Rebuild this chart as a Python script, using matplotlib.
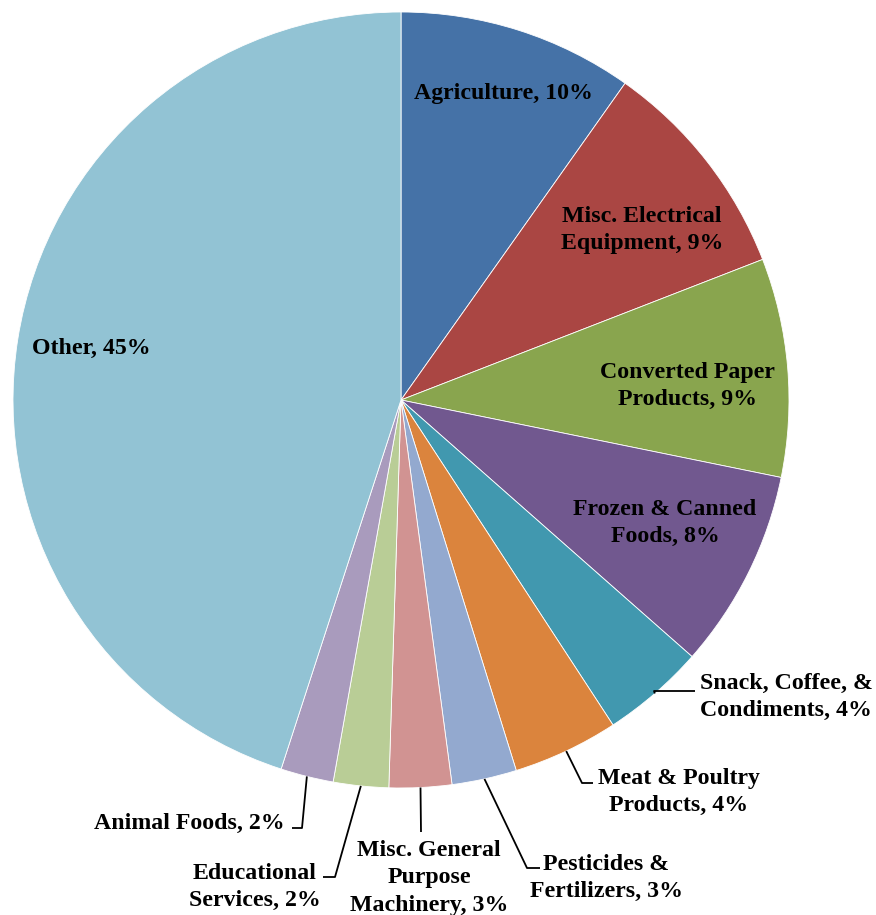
import numpy as np
import matplotlib
matplotlib.use("Agg")
import matplotlib.pyplot as plt

categories = ["Agriculture", "Misc. Electrical\nEquipment", "Converted Paper\nProducts",
              "Frozen & Canned\nFoods", "Snack, Coffee, &\nCondiments", "Meat & Poultry\nProducts",
              "Pesticides &\nFertilizers", "Misc. General\nPurpose\nMachinery", "Educational\nServices",
              "Animal Foods", "Other"]
values = [9.8, 9.3, 9.1, 8.3, 4.3, 4.4, 2.7, 2.6, 2.3, 2.2, 45.0]
pct_labels = ["10%", "9%", "9%", "8%", "4%", "4%", "3%", "3%", "2%", "2%", "45%"]
colors = ["#4572A7", "#AA4643", "#89A54E", "#71588F", "#4198AF", "#DB843D",
          "#93A9CF", "#D19392", "#B9CD96", "#A99BBD", "#92C3D4"]

W, H = 876, 915
CX, CY, R = 401, 400, 388

fig = plt.figure(figsize=(W / 100, H / 100), dpi=100)
ax = fig.add_axes([0, 0, 1, 1])

wedges, _ = ax.pie(values, colors=colors, startangle=90, counterclock=False, radius=R,
                   wedgeprops=dict(edgecolor="white", linewidth=0.6))
ax.set_xlim(-CX, W - CX)
ax.set_ylim(-(H - CY), CY)
ax.set_aspect("equal")
ax.axis("off")

def P(x, y):
    return (x - CX, CY - y)

font = dict(family="Liberation Serif", fontweight="bold", fontsize=17.2, color="black",
            linespacing=1.4)

# Inside labels (pixel-space layout positions)
inside_pos = {0: (503, 93), 1: (642, 230), 2: (687, 386), 3: (665, 523), 10: (91, 348)}
for i, (x, y) in inside_pos.items():
    ax.text(*P(x, y), f"{categories[i]}, {pct_labels[i]}", ha="center", va="center",
            multialignment="center", **font)

# Outside labels with leader lines: (elbow, line end, text center)
outside = {
    4: ((654, 691), (695, 691), (786, 697)),
    5: ((582, 783), (593, 783), (679, 792)),
    6: ((527, 868), (540, 868), (606, 878)),
    7: ((421, 832), (421, 832), (429, 878)),
    8: ((335, 877), (323, 877), (255, 887)),
    9: ((302, 828), (292, 828), (189, 823)),
}
for i, (elbow, end, tpos) in outside.items():
    w = wedges[i]
    mid = np.deg2rad((w.theta1 + w.theta2) / 2)
    ax_x, ax_y = R * np.cos(mid), R * np.sin(mid)
    ex, ey = P(*elbow)
    fx, fy = P(*end)
    ax.plot([ax_x, ex, fx], [ax_y, ey, fy], color="black", lw=1.3, solid_capstyle="butt")
    ax.text(*P(*tpos), f"{categories[i]}, {pct_labels[i]}", ha="center", va="center",
            multialignment="center", **font)

fig.savefig("out.png", dpi=100)
